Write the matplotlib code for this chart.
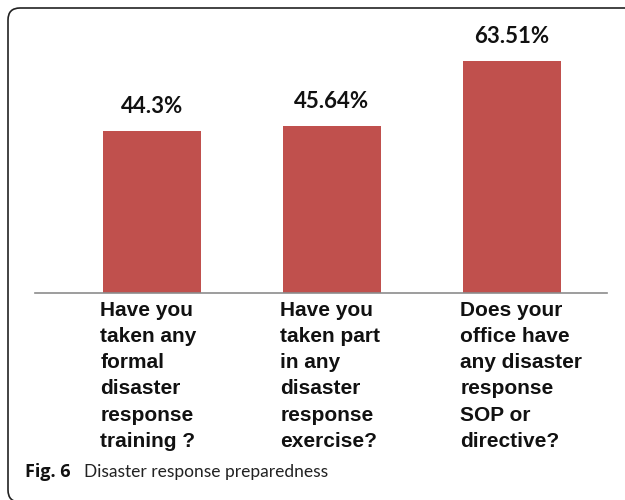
import matplotlib
matplotlib.use("Agg")
import matplotlib.pyplot as plt
from matplotlib.patches import FancyBboxPatch
from matplotlib.transforms import IdentityTransform

questions = [
    "Have you\ntaken any\nformal\ndisaster\nresponse\ntraining ?",
    "Have you\ntaken part\nin any\ndisaster\nresponse\nexercise?",
    "Does your\noffice have\nany disaster\nresponse\nSOP or\ndirective?",
]
yes_share = [44.3, 45.64, 63.51]
value_labels = ["44.3%", "45.64%", "63.51%"]

W, H = 625, 500
fig = plt.figure(figsize=(W / 100, H / 100), dpi=100)

# plot area in pixels: baseline at y=293 from the top, x from 35 to 607
ax = fig.add_axes([35 / W, (H - 293) / H, 572 / W, 255.5 / H])
bar_w = 0.545
xs = list(range(len(yes_share)))
ax.bar(xs, yes_share, width=bar_w, color="#C0504D", zorder=2)
ax.set_xlim(-0.65, 2.528)
ax.set_ylim(0, 70)

for s in ("top", "right", "left"):
    ax.spines[s].set_visible(False)
ax.spines["bottom"].set_color("#8c8c8c")
ax.spines["bottom"].set_linewidth(1.2)
ax.set_xticks([])
ax.set_yticks([])

for i, (v, lbl) in enumerate(zip(yes_share, value_labels)):
    ax.annotate(lbl, xy=(i, v), xytext=(0, 13), textcoords="offset points",
                ha="center", va="baseline", fontsize=16, fontweight="bold",
                family="Lato", color="#111111")

for i, q in enumerate(questions):
    ax.annotate(q, xy=(i - bar_w / 2, 0), xytext=(-2, -6), textcoords="offset points",
                ha="left", va="top", fontsize=15, fontweight="bold",
                family="Liberation Sans", color="#111111", linespacing=1.47)

# caption
fig.text(25 / W, 23 / H, "Fig. 6", fontsize=13, fontweight="bold",
         family="Open Sans", color="#111111", va="baseline")
fig.text(84 / W, 23 / H, "Disaster response preparedness", fontsize=12.5,
         family="Lato", color="#222222", va="baseline")

# rounded frame around the figure
frame = FancyBboxPatch((8, -2), 700, H - 8 + 2,
                       boxstyle="round,pad=0,rounding_size=12",
                       transform=IdentityTransform(), fill=False,
                       edgecolor="#222222", linewidth=1.2)
fig.add_artist(frame)

fig.savefig("out.png", dpi=100)
